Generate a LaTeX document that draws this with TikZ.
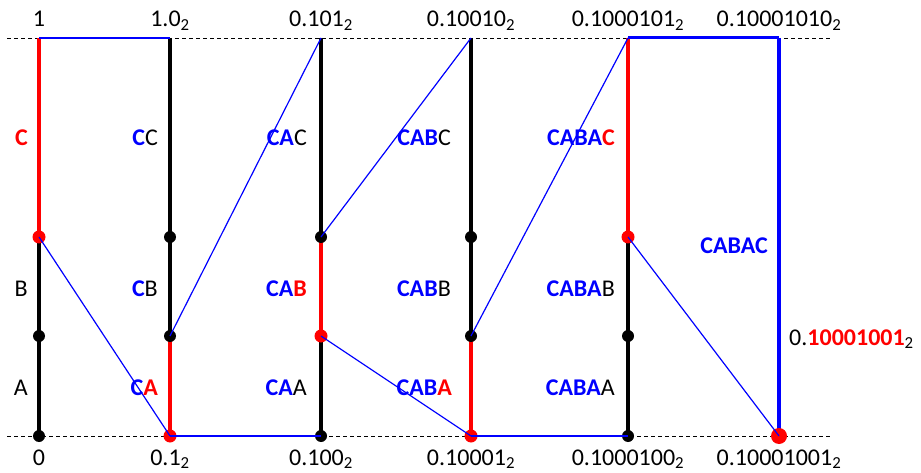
\documentclass[tikz,border=0pt]{standalone}
\usepackage{fontspec}
\setmainfont{Carlito}
\newcommand{\blu}[1]{\textbf{\color{blue}#1}}
\newcommand{\rdb}[1]{\textbf{\color{red}#1}}
\newcommand{\sub}[1]{\textsubscript{#1}}
\begin{document}
\begin{tikzpicture}[x=1pt,y=-1pt,
  bk/.style={draw=black, line width=4pt},
  rd/.style={draw=red, line width=4pt},
  bl/.style={draw=blue, line width=1.2pt},
  blt/.style={draw=blue, line width=3.5pt},
  dotb/.style={circle, fill=black, inner sep=0pt, minimum size=12pt},
  dotr/.style={circle, fill=red, inner sep=0pt, minimum size=13pt},
  dotbig/.style={circle, fill=red, inner sep=0pt, minimum size=16pt},
  lbl/.style={font=\fontsize{24}{28}\selectfont, inner sep=0pt},
  guide/.style={draw=black, dash pattern=on 4pt off 3pt, line width=0.8pt}]
\useasboundingbox (0,0) rectangle (921,473);
\foreach \i/\x in {1/39,2/170,3/321,4/471,5/628,6/779}{
  \coordinate (p\i t) at (\x,38);
  \coordinate (p\i c) at (\x,237);
  \coordinate (p\i b) at (\x,336);
  \coordinate (p\i z) at (\x,436);
}
\coordinate (gl1) at (7,38);  \coordinate (gr1) at (830,38);
\coordinate (gl2) at (7,436); \coordinate (gr2) at (830,436);
\draw[guide] (gl1) -- (gr1);
\draw[guide] (gl2) -- (gr2);
% verticals
\draw[rd] (p1t) -- (p1c); \draw[bk] (p1c) -- (p1z);
\draw[bk] (p2t) -- (p2b); \draw[rd] (p2b) -- (p2z);
\draw[bk] (p3t) -- (p3c); \draw[rd] (p3c) -- (p3b); \draw[bk] (p3b) -- (p3z);
\draw[bk] (p4t) -- (p4b); \draw[rd] (p4b) -- (p4z);
\draw[rd] (p5t) -- (p5c); \draw[bk] (p5c) -- (p5z);
\draw[blt] (p6t) -- (p6z);
% dots
\node[dotr] (d1c) at (p1c) {}; \node[dotb] (d1b) at (p1b) {}; \node[dotb] (d1z) at (p1z) {};
\node[dotb] (d2c) at (p2c) {}; \node[dotb] (d2b) at (p2b) {}; \node[dotr] (d2z) at (p2z) {};
\node[dotb] (d3c) at (p3c) {}; \node[dotr] (d3b) at (p3b) {}; \node[dotb] (d3z) at (p3z) {};
\node[dotb] (d4c) at (p4c) {}; \node[dotb] (d4b) at (p4b) {}; \node[dotr] (d4z) at (p4z) {};
\node[dotr] (d5c) at (p5c) {}; \node[dotb] (d5b) at (p5b) {}; \node[dotb] (d5z) at (p5z) {};
\node[dotbig] (d6z) at (p6z) {};
% blue connectors
\draw[bl, line width=1.6pt] (p1t) -- (p2t);
\draw[bl] (p1c) -- (p2z);
\draw[bl, line width=1.6pt] (p2z) -- (p3z);
\draw[bl] (p2b) -- (p3t);
\draw[bl] (p3c) -- (p4t);
\draw[bl] (p3b) -- (p4z);
\draw[bl, line width=1.6pt] (p4z) -- (p5z);
\draw[bl] (p4b) -- (p5t);
\draw[blt, line width=3pt] (p5t) -- (p6t);
\draw[bl] (p5c) -- (p6z);
% top labels
\node[lbl, anchor=base] (t1) at (39,27) {1};
\node[lbl, anchor=base] (t2) at (170,27) {1.0\sub{2}};
\node[lbl, anchor=base] (t3) at (321,27) {0.101\sub{2}};
\node[lbl, anchor=base] (t4) at (471,27) {0.10010\sub{2}};
\node[lbl, anchor=base] (t5) at (628,27) {0.1000101\sub{2}};
\node[lbl, anchor=base] (t6) at (779,27) {0.10001010\sub{2}};
% bottom labels
\node[lbl, anchor=base] (b1) at (39,465) {0};
\node[lbl, anchor=base] (b2) at (170,465) {0.1\sub{2}};
\node[lbl, anchor=base] (b3) at (321,465) {0.100\sub{2}};
\node[lbl, anchor=base] (b4) at (471,465) {0.10001\sub{2}};
\node[lbl, anchor=base] (b5) at (628,465) {0.1000100\sub{2}};
\node[lbl, anchor=base] (b6) at (779,465) {0.10001001\sub{2}};
% segment labels
\node[lbl, anchor=base east] (l1c) at (28,146) {\rdb{C}};
\node[lbl, anchor=base east] (l1b) at (28,296) {B};
\node[lbl, anchor=base east] (l1a) at (28,395) {A};
\node[lbl, anchor=base east] (l2c) at (158,146) {\blu{C}C};
\node[lbl, anchor=base east] (l2b) at (158,296) {\blu{C}B};
\node[lbl, anchor=base east] (l2a) at (158,395) {\blu{C}\rdb{A}};
\node[lbl, anchor=base east] (l3c) at (307,146) {\blu{CA}C};
\node[lbl, anchor=base east] (l3b) at (307,296) {\blu{CA}\rdb{B}};
\node[lbl, anchor=base east] (l3a) at (307,395) {\blu{CA}A};
\node[lbl, anchor=base east] (l4c) at (451,146) {\blu{CAB}C};
\node[lbl, anchor=base east] (l4b) at (451,296) {\blu{CAB}B};
\node[lbl, anchor=base east] (l4a) at (452,395) {\blu{CAB}\rdb{A}};
\node[lbl, anchor=base east] (l5c) at (615,146) {\blu{CABA}\rdb{C}};
\node[lbl, anchor=base east] (l5b) at (615,296) {\blu{CABA}B};
\node[lbl, anchor=base east] (l5a) at (615,395) {\blu{CABA}A};
\node[lbl, anchor=base east] (l6) at (768,254) {\blu{CABAC}};
\node[lbl, anchor=base west] (r6) at (789,345) {0.\rdb{10001001}\sub{2}};
\end{tikzpicture}
\end{document}
